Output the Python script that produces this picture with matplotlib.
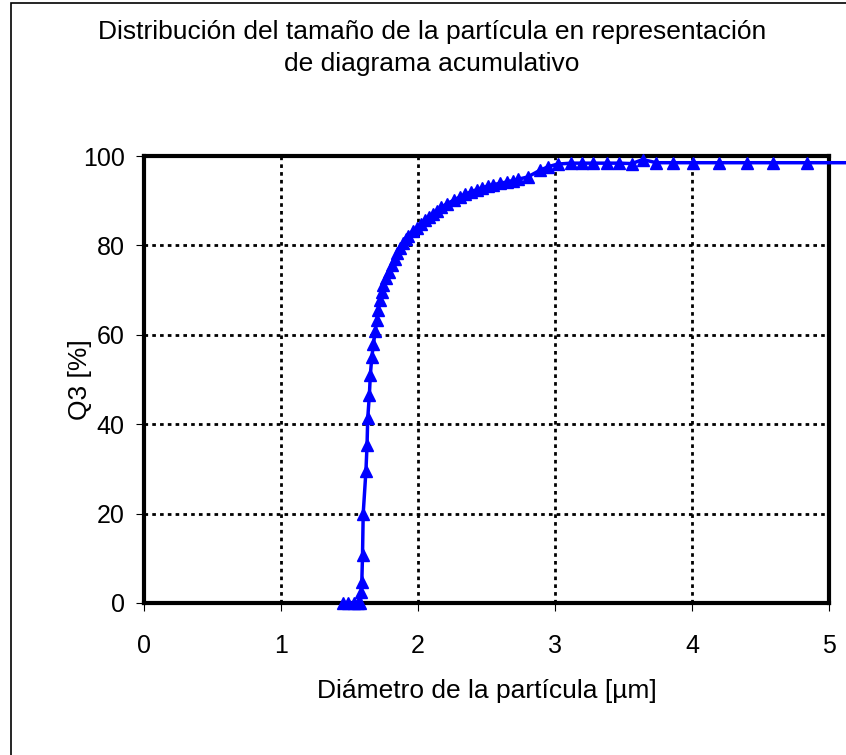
import matplotlib
matplotlib.use("Agg")
import matplotlib.pyplot as plt
from matplotlib.patches import Rectangle

plt.rcParams['font.family'] = ['Liberation Sans', 'DejaVu Sans']

# Particle diameter [µm] and cumulative Q3 [%]
diameter = [1.45, 1.49, 1.53, 1.56, 1.58, 1.585, 1.59, 1.595, 1.60, 1.62, 1.628, 1.633,
            1.645, 1.652, 1.663, 1.675, 1.688, 1.70, 1.71, 1.72, 1.735, 1.748, 1.765,
            1.79, 1.81, 1.83, 1.85, 1.87, 1.89, 1.91, 1.93, 1.96, 1.99, 2.02, 2.05,
            2.08, 2.11, 2.14, 2.17, 2.21, 2.26, 2.31, 2.34, 2.39, 2.43, 2.47, 2.51,
            2.55, 2.60, 2.65, 2.69, 2.73, 2.80, 2.89, 2.95, 3.02, 3.12, 3.20, 3.28,
            3.38, 3.47, 3.56, 3.64, 3.74, 3.86, 4.01, 4.20, 4.40, 4.59, 4.84, 5.30]
q3 = [0.0, 0.0, 0.0, 0.0, 0.0, 2.5, 4.8, 10.7, 20.0, 29.6, 35.3, 41.3,
      46.5, 51.0, 55.0, 58.0, 60.8, 63.4, 65.6, 67.8, 69.6, 71.1, 72.6,
      74.1, 75.6, 77.0, 78.3, 79.5, 80.5, 81.4, 82.2, 83.2, 84.0, 84.8, 85.6,
      86.4, 87.1, 87.8, 88.5, 89.3, 90.1, 90.9, 91.4, 92.0, 92.5, 92.9, 93.3,
      93.6, 93.9, 94.2, 94.5, 94.8, 95.3, 96.8, 97.6, 98.2, 98.4, 98.4, 98.4,
      98.4, 98.4, 98.3, 99.2, 98.5, 98.5, 98.5, 98.5, 98.5, 98.5, 98.5, 98.5]

x_ticks = [0, 1, 2, 3, 4, 5]
y_ticks = [0, 20, 40, 60, 80, 100]

title = "Distribución del tamaño de la partícula en representación\nde diagrama acumulativo"
xlabel = "Diámetro de la partícula [µm]"
ylabel = "Q3 [%]"

W, H = 846, 755
fig = plt.figure(figsize=(W / 100, H / 100), dpi=100)
fig.patch.set_facecolor('white')

# outer chart border (cut at right and bottom)
fig.add_artist(Rectangle((11 / W, -0.1), 1.2, (H - 3) / H + 0.1, transform=fig.transFigure,
                         fill=False, edgecolor='black', linewidth=1.2))

ax = fig.add_axes([144 / W, (H - 603) / H, (829 - 144) / W, (603 - 156) / H])
ax.set_xlim(0, 5)
ax.set_ylim(0, 100)
ax.set_xticks(x_ticks)
ax.set_yticks(y_ticks)
ax.tick_params(direction='out', length=6, width=0.8, labelsize=18, colors='black')
ax.tick_params(axis='x', pad=16)
ax.tick_params(axis='y', pad=8)
ax.grid(True, color='black', linestyle=(0, (1.3, 1.5)), linewidth=2.0)
ax.set_axisbelow(True)
for s in ax.spines.values():
    s.set_linewidth(3.0)
    s.set_color('black')
    s.set_zorder(2.5)

ax.plot(diameter, q3, color='#0000ff', linewidth=2.5, marker='^', markersize=8,
        markeredgecolor='#0000ff', markerfacecolor='#0000ff', clip_on=False, zorder=3)

ax.set_xlabel(xlabel, fontsize=19)
ax.set_ylabel(ylabel, fontsize=19)
ax.xaxis.set_label_coords(0.5, -0.17)
ax.yaxis.set_label_coords(-0.076, 0.5)

fig.text(432 / W, 1 - 48 / H, title, ha='center', va='center', fontsize=19, linespacing=1.45)

fig.savefig('out.png', dpi=100)
